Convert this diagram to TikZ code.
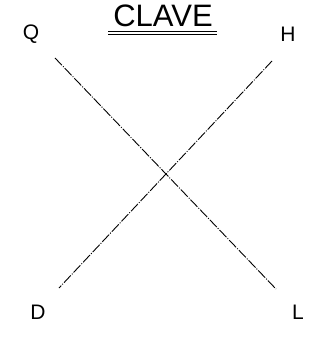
\documentclass[tikz,border=0pt]{standalone}
\usepackage{fontspec}
\setmainfont{Liberation Sans}
\begin{document}
\begin{tikzpicture}[x=1pt,y=-1pt,
  lbl/.style={font=\fontsize{21}{21}\selectfont, inner sep=0pt},
  ttl/.style={font=\fontsize{31}{31}\selectfont, inner sep=0pt, anchor=base},
  axis/.style={line width=0.9pt, dash pattern=on 10pt off 1.5pt on 1pt off 1.5pt}]
\useasboundingbox (0,0) rectangle (325,339);
\node[ttl] (title) at (163,27) {CLAVE};
\coordinate (u1) at (108,31);
\coordinate (u2) at (217,31);
\coordinate (v1) at (108,34);
\coordinate (v2) at (217,34);
\draw[line width=0.8pt] (u1) -- (u2);
\draw[line width=0.8pt] (v1) -- (v2);
\node[lbl] (Q) at (31,34) {Q};
\node[lbl] (H) at (288,34) {H};
\node[lbl] (D) at (38,312) {D};
\node[lbl] (L) at (298,312) {L};
\coordinate (qs) at (55,58);
\coordinate (le) at (276,289);
\coordinate (hs) at (272,61);
\coordinate (de) at (59,288);
\draw[axis] (qs) -- (le);
\draw[axis] (hs) -- (de);
\end{tikzpicture}
\end{document}
